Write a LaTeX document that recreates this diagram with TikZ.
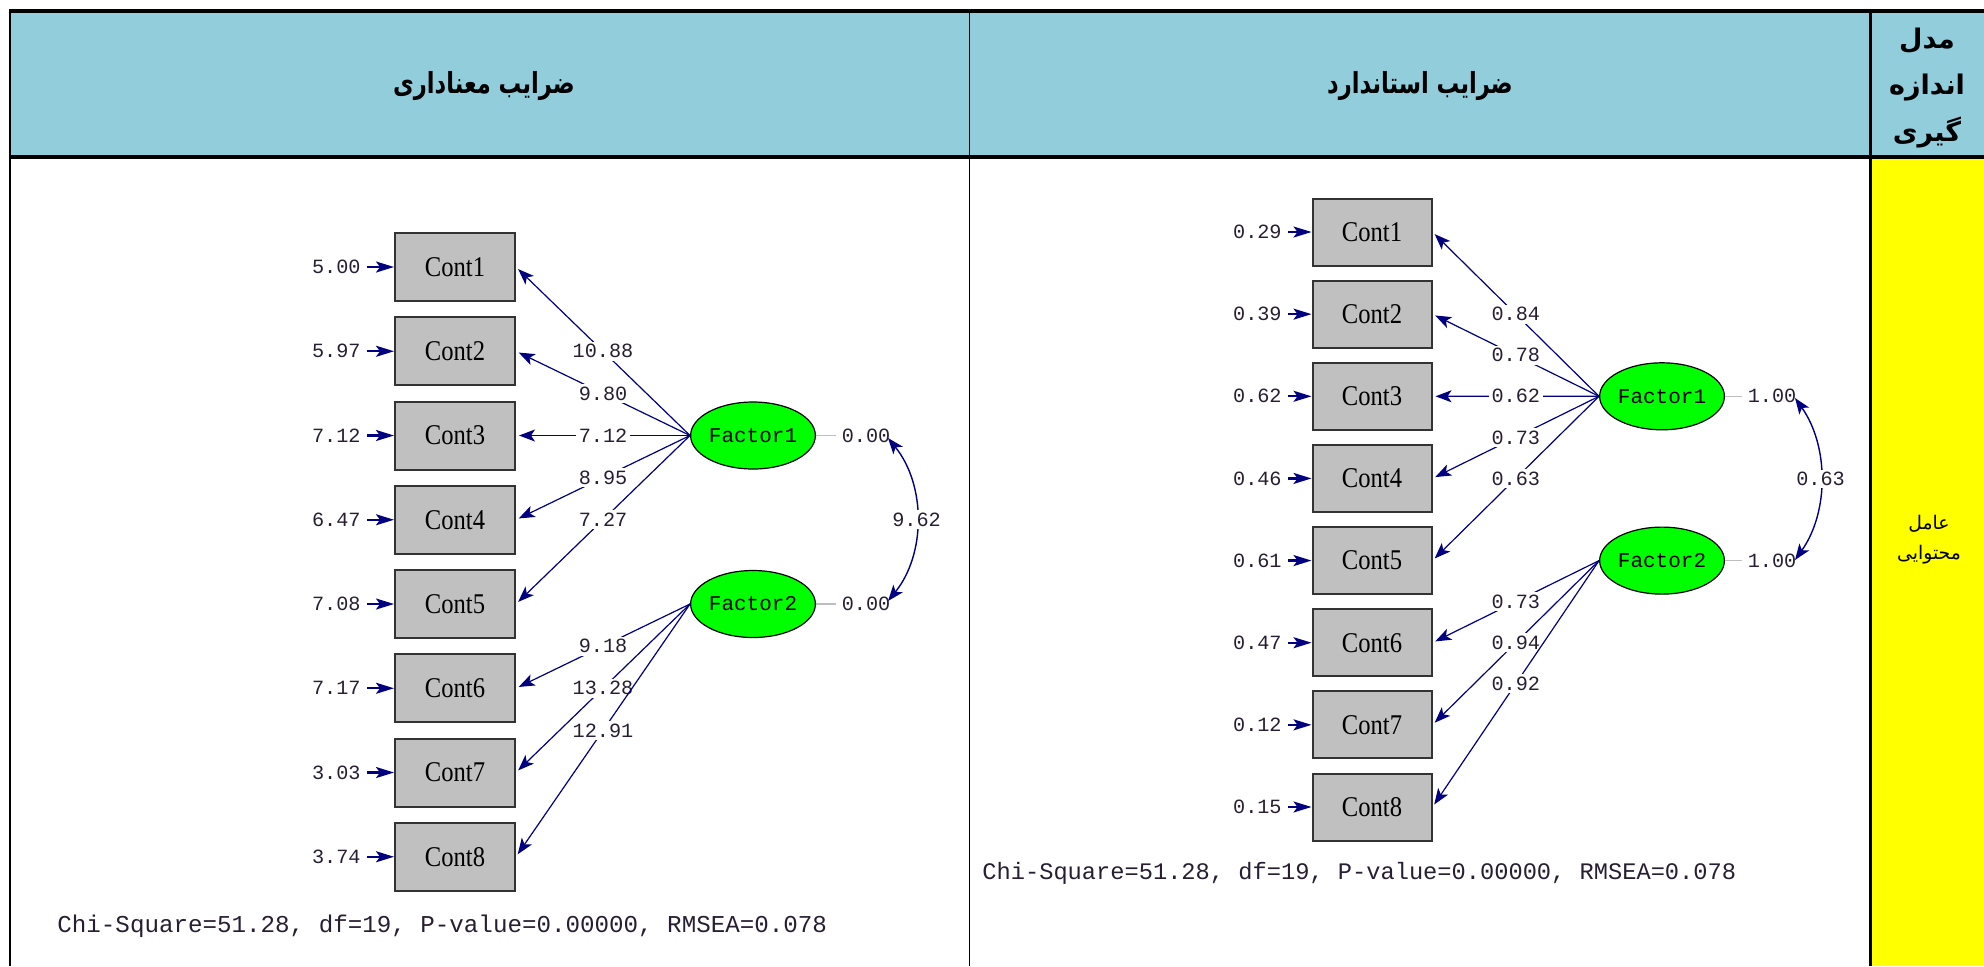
\documentclass[tikz,border=0pt]{standalone}
\usepackage{fontspec}
\usepackage{graphicx}
\usetikzlibrary{shapes.geometric,arrows.meta,calc}
\TeXXeTstate=1
\newfontfamily\monofont{Liberation Mono}
\newfontfamily\contfont{Liberation Serif}
\newfontfamily\farsifont[Script=Arabic]{DejaVu Sans}

\definecolor{headblue}{RGB}{146,205,220}
\definecolor{cellyellow}{RGB}{255,255,0}
\definecolor{latgreen}{RGB}{0,255,0}
\definecolor{boxgray}{RGB}{192,192,192}
\definecolor{pathnavy}{RGB}{0,0,128}
\definecolor{varlinegray}{RGB}{190,190,190}
\definecolor{numcol}{RGB}{40,30,50}

\newcommand{\condense}[1]{\scalebox{0.86}[1]{#1}}
\newcommand{\narrowfa}[1]{\scalebox{0.78}[1]{#1}}

\tikzset{
  obsbox/.style={draw=black!80, line width=1pt, fill=boxgray,
    minimum width=60pt, minimum height=34pt, inner sep=0pt,
    font=\contfont\fontsize{14.3}{16}\selectfont},
  latent/.style={ellipse, draw=black, line width=0.6pt, fill=latgreen,
    minimum width=59.5pt, minimum height=33.5pt, inner sep=0pt,
    font=\monofont\fontsize{10.5}{12}\selectfont},
  num/.style={font=\monofont\fontsize{10.1}{11}\selectfont, text=numcol, inner sep=1pt},
  lbl/.style={num, fill=white, inner sep=1.3pt},
  loadarrow/.style={draw=pathnavy, line width=0.6pt,
    -{Stealth[length=8pt,width=6pt,inset=2pt]}, shorten >=1.5pt},
  errarrow/.style={draw=pathnavy, line width=1.1pt,
    -{Stealth[length=9pt,width=5.5pt,inset=2pt]}, shorten <=2pt},
  varline/.style={draw=varlinegray, line width=0.6pt, shorten >=1.5pt},
  covarrow/.style={draw=pathnavy, line width=0.7pt,
    {Stealth[length=8pt,width=6pt,inset=2pt]}-{Stealth[length=8pt,width=6pt,inset=2pt]}},
  chitext/.style={anchor=west, inner sep=0pt, text=numcol},
  headtext/.style={font=\farsifont\bfseries\fontsize{14.5}{17}\selectfont},
}

\begin{document}
\begin{tikzpicture}[x=0.5pt,y=-0.5pt]
\useasboundingbox (0,0) rectangle (1984,966);

% table cells
\fill[headblue] (10,11) rectangle (1984,157);
\fill[cellyellow] (1870,157) rectangle (1984,966);
\draw[line width=2pt] (9,11) -- (1984,11);
\draw[line width=2pt] (9,157) -- (1984,157);
\draw[line width=1pt] (10,10) -- (10,966);
\draw[line width=0.5pt] (969,11) -- (969,966);
\draw[line width=1.5pt] (1870,11) -- (1870,966);

% header texts
\node[headtext] (h-sig) at (484,86) {\narrowfa{\beginR ضرایب معناداری\endR}};
\node[headtext] (h-std) at (1420,86) {\narrowfa{\beginR ضرایب استاندارد\endR}};
\node[font=\farsifont\bfseries\fontsize{13.5}{23.3}\selectfont, align=center] (h-model) at (1927,88)
  {\beginR مدل\endR\\ \beginR اندازه\endR\\ \beginR گیری\endR};
\node[font=\farsifont\fontsize{9.4}{15}\selectfont, align=center] (h-factor) at (1929,540)
  {\beginR عامل\endR\\ \beginR محتوایی\endR};

% ---------- t-values diagram ----------
\foreach \i/\e in {1/5.00,2/5.97,3/7.12,4/6.47,5/7.08,6/7.17,7/3.03,8/3.74} {
  \node[obsbox] (L-c\i) at (455,{267+84.25*(\i-1)}) {\condense{Cont\i}};
  \node[num, anchor=east] (L-e\i) at (363,{267+84.25*(\i-1)}) {\e};
  \draw[errarrow] (L-e\i) -- (L-c\i);
}
\node[latent] (L-f1) at (753,435.5) {Factor1};
\node[latent] (L-f2) at (753,604) {Factor2};
\foreach \i/\v in {1/10.88,2/9.80,3/7.12,4/8.95,5/7.27}
  \draw[loadarrow] (L-f1.west) -- node[lbl] (L-l\i) {\v} (L-c\i.east);
\foreach \i/\v in {6/9.18,7/13.28,8/12.91}
  \draw[loadarrow] (L-f2.west) -- node[lbl] (L-l\i) {\v} (L-c\i.east);
\node[num] (L-v1) at (866,435.5) {0.00};
\node[num] (L-v2) at (866,604) {0.00};
\draw[varline] (L-f1) -- (L-v1);
\draw[varline] (L-f2) -- (L-v2);
\coordinate (L-ct) at (888,438);
\coordinate (L-cb) at (888,601);
\draw[covarrow] (L-ct) .. controls (926,485) and (926,554) .. node[lbl, pos=0.5] (L-cov) {9.62} (L-cb);
\node[chitext, font=\monofont\fontsize{12.1}{14}\selectfont] (L-chi) at (57,926)
  {Chi-Square=51.28, df=19, P-value=0.00000, RMSEA=0.078};

% ---------- standardized diagram ----------
\foreach \i/\e in {1/0.29,2/0.39,3/0.62,4/0.46,5/0.61,6/0.47,7/0.12,8/0.15} {
  \node[obsbox, minimum width=59.5pt, minimum height=33.5pt] (R-c\i) at (1372,{232+82.14*(\i-1)}) {\condense{Cont\i}};
  \node[num, anchor=east] (R-e\i) at (1284,{232+82.14*(\i-1)}) {\e};
  \draw[errarrow] (R-e\i) -- (R-c\i);
}
\node[latent] (R-f1) at (1662,396.3) {Factor1};
\node[latent] (R-f2) at (1662,560.6) {Factor2};
\foreach \i/\v in {1/0.84,2/0.78,3/0.62,4/0.73,5/0.63}
  \draw[loadarrow] (R-f1.west) -- node[lbl] (R-l\i) {\v} (R-c\i.east);
\foreach \i/\v in {6/0.73,7/0.94,8/0.92}
  \draw[loadarrow] (R-f2.west) -- node[lbl] (R-l\i) {\v} (R-c\i.east);
\node[num] (R-v1) at (1772,396.3) {1.00};
\node[num] (R-v2) at (1772,560.6) {1.00};
\draw[varline] (R-f1) -- (R-v1);
\draw[varline] (R-f2) -- (R-v2);
\coordinate (R-ct) at (1795,398);
\coordinate (R-cb) at (1795,560);
\draw[covarrow] (R-ct) .. controls (1829,446) and (1829,512) .. node[lbl, pos=0.5] (R-cov) {0.63} (R-cb);
\node[chitext, font=\monofont\fontsize{11.85}{14}\selectfont] (R-chi) at (982,873)
  {Chi-Square=51.28, df=19, P-value=0.00000, RMSEA=0.078};
\end{tikzpicture}
\end{document}
